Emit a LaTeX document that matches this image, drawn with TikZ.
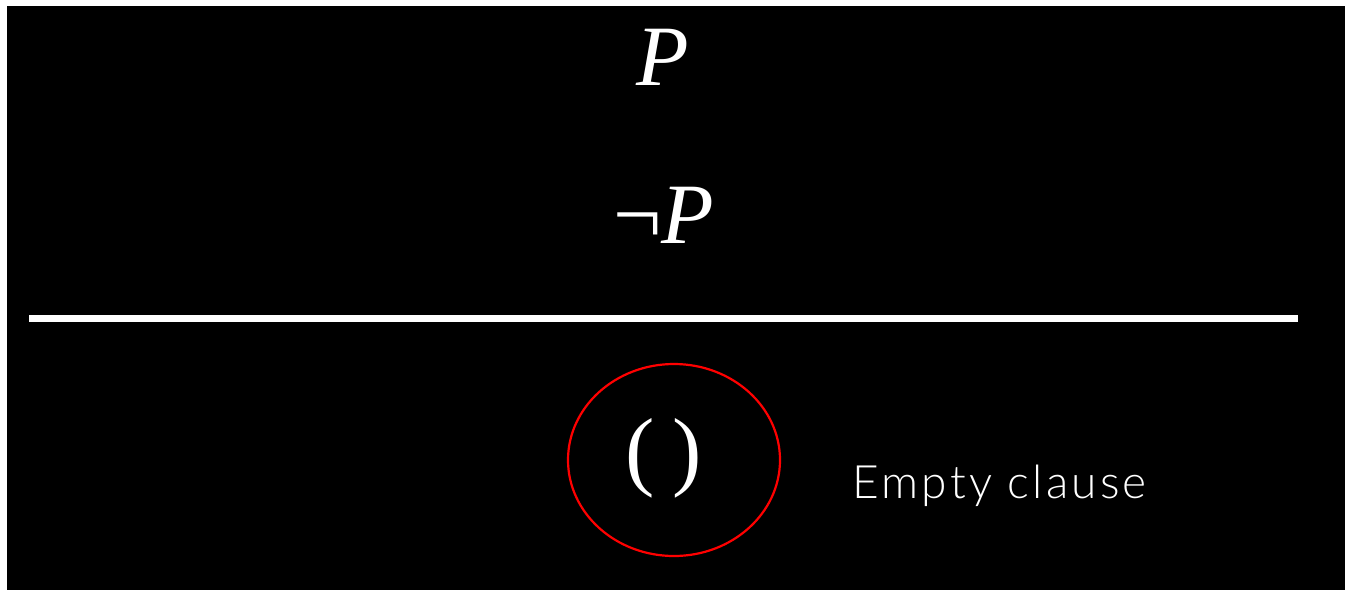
\documentclass[tikz,border=0pt]{standalone}
\usepackage{fontspec}
\newfontfamily\formfont{Liberation Serif}
\newfontfamily\labelfont[LetterSpace=7, UprightFont=* Light]{Lato}
\usetikzlibrary{positioning, shapes.geometric}

\tikzset{
  formula/.style={text=white, inner sep=0pt, font=\formfont\fontsize{43}{50}\selectfont},
  caption/.style={text=white, inner sep=0pt, anchor=base west, font=\labelfont\fontsize{23}{27}\selectfont},
  ring/.style={draw=red, line width=1.1pt, ellipse, minimum width=106pt, minimum height=96pt}
}

\begin{document}
\begin{tikzpicture}[x=0.5pt, y=-0.5pt]
  \useasboundingbox (0,0) rectangle (1345,590);
  \fill[black] (7,6) rectangle (1345,590);

  \node (pos)   [formula, anchor=base] at (663,85)  {\itshape P};
  \node (neg)   [formula, anchor=base] at (664,243) {¬\textit{P}};

  \coordinate (barl) at (29,318);
  \coordinate (barr) at (1298,318);
  \draw[white, line width=3.5pt] (barl) -- (barr);

  \node (empty) [formula, font=\formfont\fontsize{44}{50}\selectfont] at (664,458) {(\hspace{0.2em})};
  \node (circ)  [ring] at (674,460) {};
  \node (lbl)   [caption] at (852,498) {Empty clause};
\end{tikzpicture}
\end{document}
